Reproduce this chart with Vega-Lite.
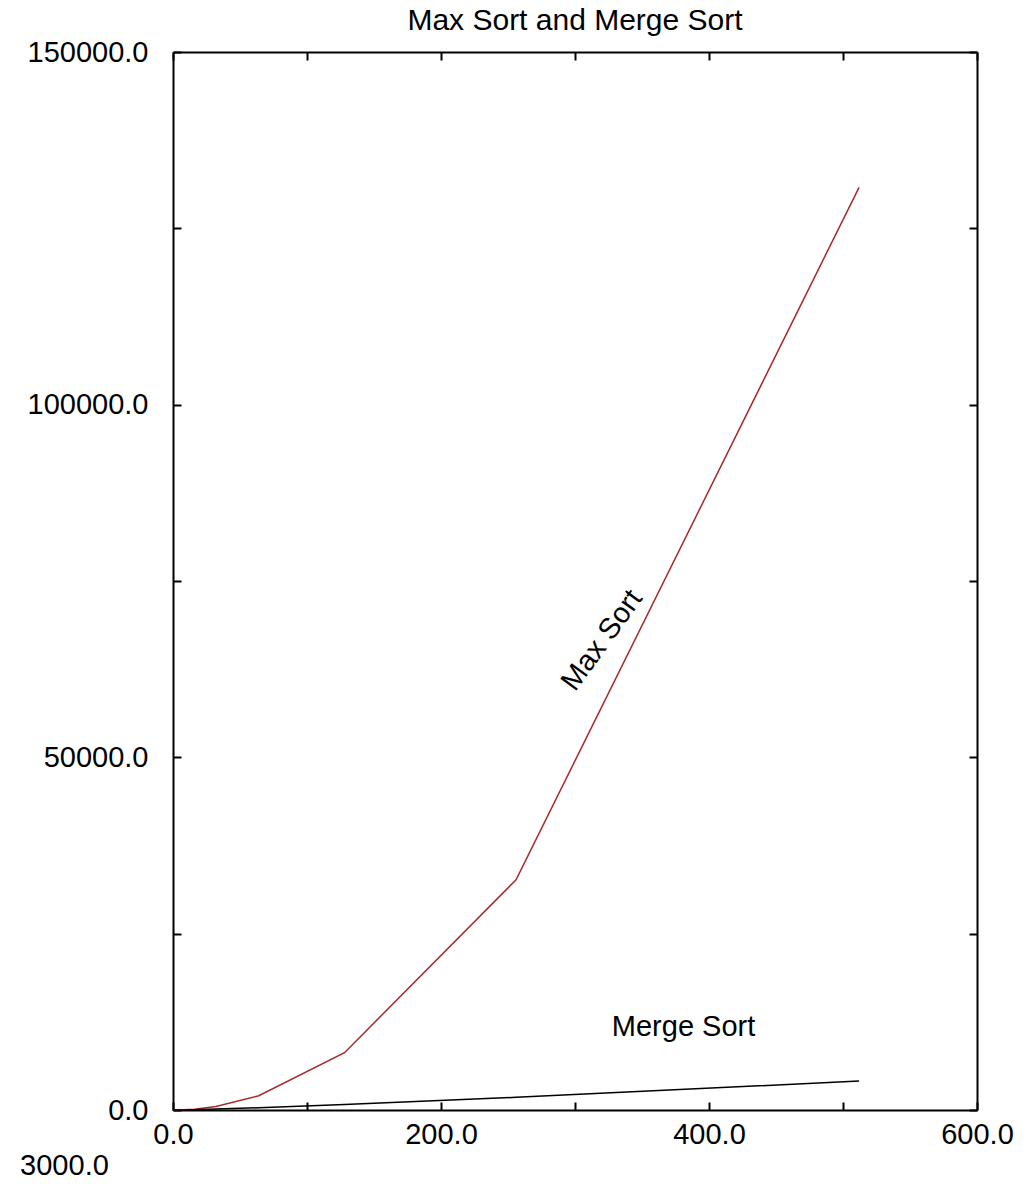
{
  "$schema": "https://vega.github.io/schema/vega-lite/v6.json",
  "autosize": "none",
  "width": 804,
  "height": 1058,
  "padding": {"left": 173, "top": 52, "right": 59, "bottom": 74},
  "background": "white",
  "title": {"text": "Max Sort and Merge Sort", "font": "Liberation Sans", "fontSize": 30, "fontWeight": "normal", "color": "black", "anchor": "middle", "offset": 2},
  "config": {
    "view": {"stroke": null},
    "axis": {
      "grid": false,
      "domainColor": "black",
      "domainWidth": 2,
      "tickColor": "black",
      "tickWidth": 2,
      "tickSize": -8,
      "labelFont": "Liberation Sans",
      "labelFontSize": 29,
      "labelColor": "black",
      "title": null
    }
  },
  "datasets": {
    "sorts": [
      {"n": 0, "comparisons": 0, "algorithm": "Max Sort"},
      {"n": 1, "comparisons": 0, "algorithm": "Max Sort"},
      {"n": 2, "comparisons": 1, "algorithm": "Max Sort"},
      {"n": 4, "comparisons": 6, "algorithm": "Max Sort"},
      {"n": 8, "comparisons": 28, "algorithm": "Max Sort"},
      {"n": 16, "comparisons": 120, "algorithm": "Max Sort"},
      {"n": 32, "comparisons": 496, "algorithm": "Max Sort"},
      {"n": 64, "comparisons": 2016, "algorithm": "Max Sort"},
      {"n": 128, "comparisons": 8128, "algorithm": "Max Sort"},
      {"n": 256, "comparisons": 32640, "algorithm": "Max Sort"},
      {"n": 512, "comparisons": 130816, "algorithm": "Max Sort"},
      {"n": 0, "comparisons": 0, "algorithm": "Merge Sort"},
      {"n": 1, "comparisons": 0, "algorithm": "Merge Sort"},
      {"n": 2, "comparisons": 1, "algorithm": "Merge Sort"},
      {"n": 4, "comparisons": 5, "algorithm": "Merge Sort"},
      {"n": 8, "comparisons": 17, "algorithm": "Merge Sort"},
      {"n": 16, "comparisons": 49, "algorithm": "Merge Sort"},
      {"n": 32, "comparisons": 129, "algorithm": "Merge Sort"},
      {"n": 64, "comparisons": 321, "algorithm": "Merge Sort"},
      {"n": 128, "comparisons": 769, "algorithm": "Merge Sort"},
      {"n": 256, "comparisons": 1793, "algorithm": "Merge Sort"},
      {"n": 512, "comparisons": 4097, "algorithm": "Merge Sort"}
    ],
    "labels": [
      {"x": 320, "y": 66600, "text": "Max Sort", "kind": "max"},
      {"x": 381, "y": 11800, "text": "Merge Sort", "kind": "merge"},
      {"x": -81, "y": -7900, "text": "3000.0", "kind": "stray"}
    ]
  },
  "layer": [
    {
      "data": {"name": "sorts"},
      "mark": {"type": "line", "strokeWidth": 1.5},
      "encoding": {
        "x": {"field": "n", "type": "quantitative",
              "scale": {"domain": [0, 600], "nice": false, "zero": false},
              "axis": {"orient": "bottom", "values": [0, 100, 200, 300, 400, 500, 600],
                       "labelExpr": "datum.value % 200 === 0 ? format(datum.value, '.1f') : ''",
                       "labelPadding": 18, "labelFlush": false, "labelOverlap": false}},
        "y": {"field": "comparisons", "type": "quantitative",
              "scale": {"domain": [0, 150000], "nice": false, "zero": false},
              "axis": {"orient": "left", "values": [0, 25000, 50000, 75000, 100000, 125000, 150000],
                       "labelExpr": "datum.value % 50000 === 0 ? format(datum.value, '.1f') : ''",
                       "labelPadding": 33, "labelFlush": false, "labelOverlap": false}},
        "color": {"field": "algorithm", "type": "nominal",
                  "scale": {"domain": ["Max Sort", "Merge Sort"], "range": ["#a8282d", "#000000"]},
                  "legend": null}
      }
    },
    {
      "data": {"name": "labels"},
      "transform": [{"filter": "datum.kind === 'max'"}],
      "mark": {"type": "text", "font": "Liberation Sans", "fontSize": 29, "angle": -54, "align": "center", "baseline": "middle", "color": "black"},
      "encoding": {
        "x": {"field": "x", "type": "quantitative",
              "axis": {"orient": "top", "values": [0, 100, 200, 300, 400, 500, 600], "labels": false}},
        "y": {"field": "y", "type": "quantitative",
              "axis": {"orient": "right", "values": [0, 25000, 50000, 75000, 100000, 125000, 150000], "labels": false}},
        "text": {"field": "text"}
      }
    },
    {
      "data": {"name": "labels"},
      "transform": [{"filter": "datum.kind !== 'max'"}],
      "mark": {"type": "text", "font": "Liberation Sans", "fontSize": 29, "align": "center", "baseline": "middle", "color": "black"},
      "encoding": {
        "x": {"field": "x", "type": "quantitative", "axis": null},
        "y": {"field": "y", "type": "quantitative", "axis": null},
        "text": {"field": "text"}
      }
    }
  ],
  "resolve": {"axis": {"x": "independent", "y": "independent"}}
}
